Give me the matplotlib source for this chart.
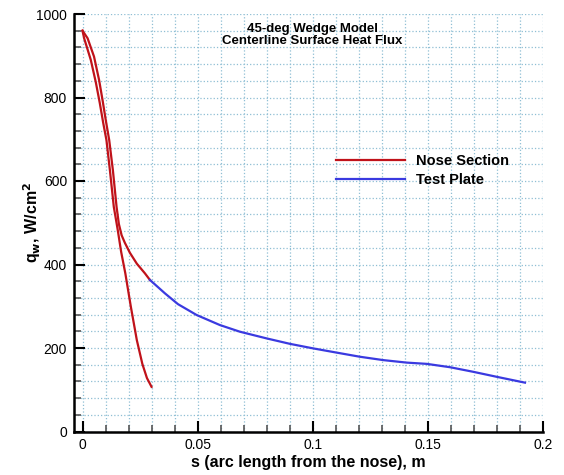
import matplotlib.pyplot as plt
from matplotlib.ticker import MultipleLocator

# nose section: two red branches
nose_a_s = [0.0, 0.0022, 0.0050, 0.0072, 0.0087, 0.0101, 0.0116, 0.0132, 0.0148, 0.0158,
            0.0170, 0.0184, 0.0206, 0.0236, 0.0271, 0.0293]
nose_a_q = [960, 942, 898, 842, 794, 746, 698, 626, 538, 497,
            470, 452, 428, 402, 379, 363]
nose_b_s = [0.0, 0.0007, 0.0036, 0.0058, 0.0075, 0.0090, 0.0104, 0.0119, 0.0136, 0.0153,
            0.0168, 0.0186, 0.0210, 0.0236, 0.0260, 0.0280, 0.0300]
nose_b_q = [960, 942, 890, 836, 787, 739, 698, 626, 538, 483,
            430, 379, 299, 219, 162, 128, 107]

# test plate
plate_s = [0.0293, 0.0358, 0.0415, 0.0496, 0.0597, 0.0684, 0.0800, 0.0901, 0.1003, 0.1104,
           0.1206, 0.1307, 0.1409, 0.1496, 0.1597, 0.1698, 0.1800, 0.1923]
plate_q = [363, 331, 305, 279, 255, 239, 223, 210, 199, 189,
           179, 171, 165, 162, 154, 143, 131, 117]

plt.rcParams['font.family'] = ['Liberation Sans', 'DejaVu Sans']

fig = plt.figure(figsize=(5.64, 4.75), dpi=100)
ax = fig.add_axes([74 / 564, 1 - 431.5 / 475, (542.7 - 74) / 564, (431.5 - 14) / 475])

red = '#c0121a'
blue = '#3a3ae0'
ax.plot(nose_a_s, nose_a_q, color=red, lw=1.6, label='Nose Section')
ax.plot(nose_b_s, nose_b_q, color=red, lw=1.6)
ax.plot(plate_s, plate_q, color=blue, lw=1.6, label='Test Plate')

ax.set_xlim(-0.0037, 0.2)
ax.set_ylim(0, 1000)
ax.xaxis.set_minor_locator(MultipleLocator(0.01))
ax.yaxis.set_major_locator(MultipleLocator(200))
ax.yaxis.set_minor_locator(MultipleLocator(40))
ax.set_xticks([0, 0.05, 0.1, 0.15, 0.2])
ax.set_xticklabels(['0', '0.05', '0.1', '0.15', '0.2'])

ax.grid(True, which='both', color='#8fbfd4', linestyle=':', linewidth=0.9)
ax.set_axisbelow(True)

for side in ['top', 'right']:
    ax.spines[side].set_visible(False)
for side in ['left', 'bottom']:
    ax.spines[side].set_linewidth(1.8)

ax.tick_params(which='major', direction='in', length=8, width=1.5, labelsize=10, pad=5)
ax.tick_params(which='minor', direction='in', length=5, width=1.2, color='#555555')

ax.set_xlabel('s (arc length from the nose), m', fontsize=11.5, fontweight='bold', labelpad=2)
ax.set_ylabel('q$_\\mathbf{w}$, W/cm$^\\mathbf{2}$', fontsize=11.5, fontweight='bold', labelpad=-5)

ax.text(0.1, 950, '45-deg Wedge Model\nCenterline Surface Heat Flux',
        ha='center', va='center', fontsize=9.5, fontweight='bold', linespacing=1.0)

ax.legend(loc='upper left', bbox_to_anchor=(323 / 564, 1 - 141 / 475),
          bbox_transform=fig.transFigure, frameon=False, handlelength=4.7,
          handletextpad=0.75, prop={'weight': 'bold', 'size': 10.5}, labelspacing=0.35)

fig.savefig('out.png', dpi=100)
